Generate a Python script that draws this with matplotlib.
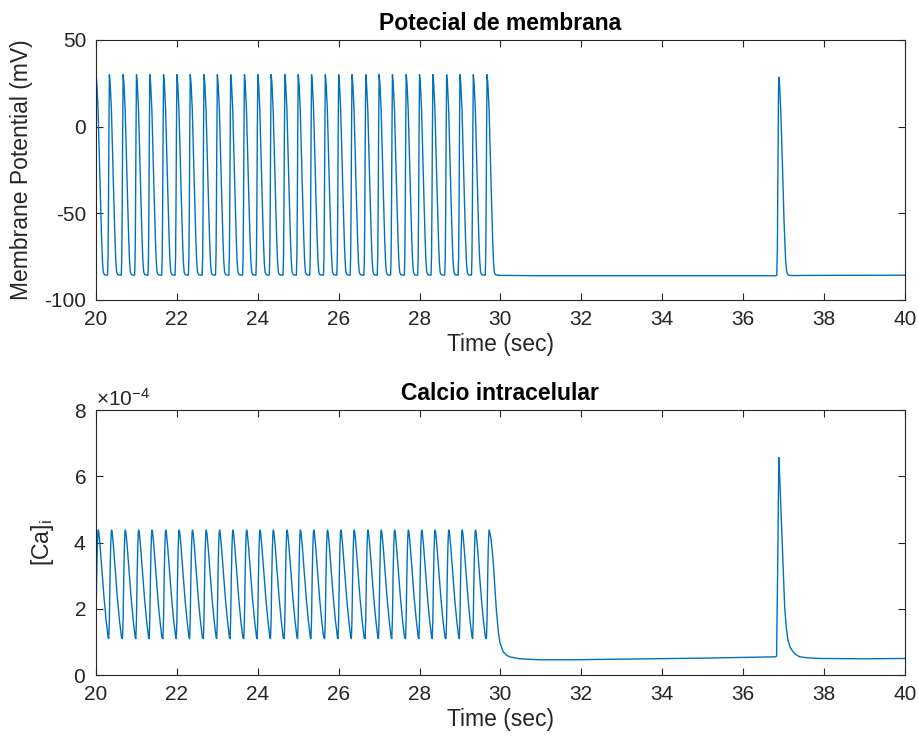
import numpy as np
import matplotlib
matplotlib.use('Agg')
import matplotlib.pyplot as plt
from matplotlib.ticker import ScalarFormatter

plt.rcParams['font.family'] = ['Liberation Sans', 'DejaVu Sans']
plt.rcParams['mathtext.fontset'] = 'custom'
plt.rcParams['mathtext.rm'] = 'Liberation Sans'
plt.rcParams['mathtext.it'] = 'Liberation Sans'
plt.rcParams['axes.unicode_minus'] = False

# spike peak times (sec)
spike_times = [20.00, 20.33, 20.67, 21.00, 21.33, 21.67, 22.00, 22.33, 22.67, 23.00,
               23.33, 23.67, 24.00, 24.33, 24.67, 25.00, 25.33, 25.67, 26.00, 26.33,
               26.67, 27.00, 27.33, 27.67, 28.00, 28.33, 28.67, 29.00, 29.33, 29.67]

# one action potential, time relative to its peak (sec) and voltage (mV)
ap_dt = [-0.045, -0.033, -0.022, -0.012, 0.0, 0.02, 0.05, 0.08, 0.11, 0.14, 0.16, 0.18, 0.21, 0.28]
ap_v = [-85.6, -75, -45, -5, 30, 25, 10, -17, -42, -66, -78, -84, -85.5, -85.7]

# membrane potential after the burst
rest_t = [29.95, 31.0, 33.0, 35.0, 36.80, 36.835, 36.85, 36.865, 36.877, 36.885,
          36.905, 36.935, 36.975, 37.015, 37.055, 37.085, 37.12, 37.18, 38.0, 40.0]
rest_v = [-85.8, -86.0, -86.0, -86.0, -86.0, -85.8, -70, -20, 20, 28.5,
          24, 8, -22, -55, -78, -84, -85.6, -85.9, -85.8, -85.7]

# one calcium transient, time relative to the voltage peak (sec), value in 1e-4
ca_dt = [-0.015, 0.0, 0.015, 0.03, 0.045, 0.055, 0.07, 0.10, 0.15, 0.20, 0.25, 0.29, 0.30]
ca_v = [1.10, 1.7, 2.9, 3.8, 4.3, 4.38, 4.3, 3.9, 3.1, 2.3, 1.65, 1.22, 1.13]

# calcium after the last spike of the burst
ca_tail_t = [29.77, 29.82, 29.86, 29.90, 29.95, 29.99, 30.07, 30.15, 30.23, 30.48, 31.0,
             31.72, 33.0, 35.0, 36.80, 36.83, 36.86, 36.885, 36.91, 36.95, 36.99, 37.03,
             37.07, 37.11, 37.17, 37.24, 37.32, 37.40, 37.60, 37.90, 39.0, 40.0]
ca_tail_v = [4.1, 3.47, 2.7, 1.96, 1.3, 0.97, 0.70, 0.60, 0.55, 0.49, 0.46,
             0.46, 0.48, 0.51, 0.55, 0.57, 3.5, 6.57, 5.9, 4.59, 3.2, 2.06,
             1.45, 1.06, 0.83, 0.70, 0.61, 0.55, 0.52, 0.50, 0.49, 0.50]

# build the traces
t_v, v = [], []
for ts in spike_times:
    t_v += [ts + d for d in ap_dt]
    v += ap_v
t_v += rest_t
v += rest_v

t_ca, ca = [], []
for ts in spike_times[:-1]:
    t_ca += [ts + d for d in ca_dt]
    ca += ca_v
last = spike_times[-1]
t_ca += [last + d for d in ca_dt[:7]]
ca += ca_v[:7]
t_ca += ca_tail_t
ca += ca_tail_v
ca = np.array(ca) * 1e-4

blue = '#0072BD'
grey = '#262626'

fig = plt.figure(figsize=(9.19, 7.44), dpi=100)
ax1 = fig.add_axes([0.1045, 0.5968, 0.880, 0.3495])
ax2 = fig.add_axes([0.1045, 0.0927, 0.880, 0.356])

ax1.plot(t_v, v, color=blue, lw=1.0)
ax1.set_xlim(20, 40)
ax1.set_ylim(-100, 50)
ax1.set_yticks([-100, -50, 0, 50])
ax1.set_title('Potecial de membrana', fontsize=16.5, fontweight='bold', color='black', pad=7)
ax1.set_ylabel('Membrane Potential (mV)', fontsize=16.5, color=grey)
ax1.yaxis.set_label_coords(-0.078, 0.5)

ax2.plot(t_ca, ca, color=blue, lw=1.0)
ax2.set_xlim(20, 40)
ax2.set_ylim(0, 8e-4)
ax2.set_yticks([0, 2e-4, 4e-4, 6e-4, 8e-4])
fmt = ScalarFormatter(useMathText=True)
fmt.set_powerlimits((-3, 3))
ax2.yaxis.set_major_formatter(fmt)
ax2.yaxis.get_offset_text().set_fontsize(15)
ax2.yaxis.get_offset_text().set_color(grey)
ax2.set_title('Calcio intracelular', fontsize=16.5, fontweight='bold', color='black', pad=7)
ax2.set_ylabel('[Ca]$_\\mathregular{i}$', fontsize=16.5, color=grey)
ax2.yaxis.set_label_coords(-0.05, 0.5)

for ax in (ax1, ax2):
    ax.set_xticks(range(20, 41, 2))
    ax.set_xlabel('Time (sec)', fontsize=16.5, color=grey, labelpad=3)
    ax.tick_params(direction='in', length=5, width=0.8, colors=grey, labelsize=15,
                   top=True, right=True, pad=7)
    for s in ax.spines.values():
        s.set_color(grey)
        s.set_linewidth(0.8)

plt.savefig('out.png', dpi=100)
